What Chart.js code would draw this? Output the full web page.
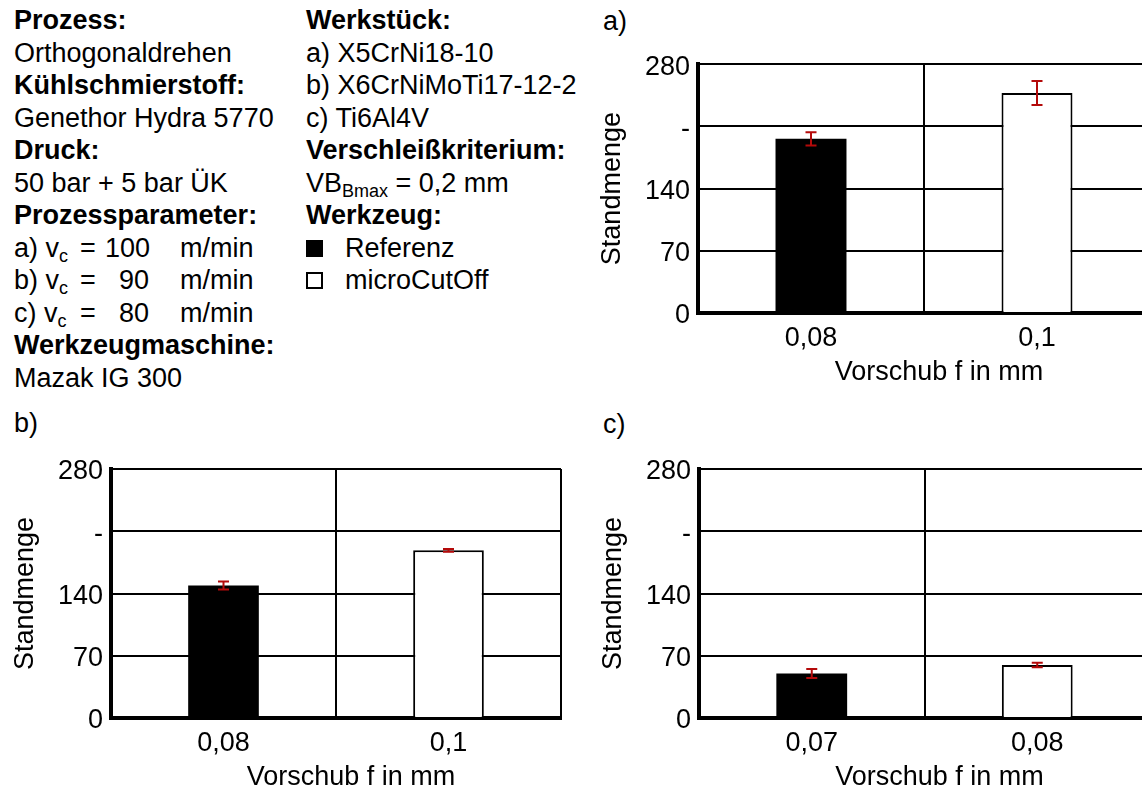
<!DOCTYPE html>
<html lang="de">
<head>
<meta charset="utf-8">
<title>Standmenge</title>
<script src="https://cdn.jsdelivr.net/npm/chart.js@4.4.0/dist/chart.umd.min.js"></script>
<style>
    html, body {
        margin: 0;
        padding: 0;
        background: #fff;
        overflow: hidden;
    }

    body {
        position: relative;
        width: 1142px;
        height: 790px;
        font-family: 'Liberation Sans', Arial, sans-serif;
        font-size: 27px;
        color: #000;
    }

    canvas {
        position: absolute;
    }

    .info {
        position: absolute;
        top: 4px;
        line-height: 32.5px;
        white-space: nowrap;
    }

    .info div {
        height: 32.5px;
    }

    .b {
        font-weight: bold;
    }

    sub {
        font-size: 18px;
        line-height: 0;
        vertical-align: -5px;
    }

    .row {
        position: relative;
    }

    .row span {
        position: absolute;
        top: 0;
    }

    .num {
        width: 44px;
        text-align: right;
    }

    .box {
        width: 17px;
        height: 17px;
        box-sizing: border-box;
        border: 2px solid #000;
    }

    .panel-label {
        position: absolute;
        line-height: 30px;
    }
</style>
</head>
<body>

<div class="info" style="left:14px">
    <div class="b">Prozess:</div>
    <div>Orthogonaldrehen</div>
    <div class="b">Kühlschmierstoff:</div>
    <div>Genethor Hydra 5770</div>
    <div class="b">Druck:</div>
    <div>50 bar + 5 bar ÜK</div>
    <div class="b">Prozessparameter:</div>
    <div class="row"><span>a) v<sub>c</sub></span><span style="left:66px">=</span><span class="num" style="left:91px">100</span><span style="left:166px">m/min</span></div>
    <div class="row"><span>b) v<sub>c</sub></span><span style="left:66px">=</span><span class="num" style="left:91px">90</span><span style="left:166px">m/min</span></div>
    <div class="row"><span>c) v<sub>c</sub></span><span style="left:66px">=</span><span class="num" style="left:91px">80</span><span style="left:166px">m/min</span></div>
    <div class="b">Werkzeugmaschine:</div>
    <div>Mazak IG 300</div>
</div>

<div class="info" style="left:306px">
    <div class="b">Werkstück:</div>
    <div>a) X5CrNi18-10</div>
    <div>b) X6CrNiMoTi17-12-2</div>
    <div>c) Ti6Al4V</div>
    <div class="b">Verschleißkriterium:</div>
    <div>VB<sub>Bmax</sub> = 0,2 mm</div>
    <div class="b">Werkzeug:</div>
    <div class="row"><span class="box" style="top:8px;background:#000"></span><span style="left:39px">Referenz</span></div>
    <div class="row"><span class="box" style="top:8px;background:#fff"></span><span style="left:39px">microCutOff</span></div>
</div>

<div class="panel-label" style="left:603px;top:6px">a)</div>
<div class="panel-label" style="left:14px;top:408px">b)</div>
<div class="panel-label" style="left:603px;top:409px">c)</div>

<canvas id="chart-a" width="580" height="360" style="left:587px;top:40px"></canvas>
<canvas id="chart-b" width="575" height="360" style="left:0px;top:440px"></canvas>
<canvas id="chart-c" width="580" height="360" style="left:588px;top:440px"></canvas>

<script>
//axis ticks, shared by all three charts
var yTicks = [0, 70, 140, 210, 280];
var yTickLabels = ['0', '70', '140', '-', '280'];

//a) X5CrNi18-10
var categoriesA = ['0,08', '0,1'];
var referenzA = [196, null];
var referenzErrA = [7.5, null];
var microCutOffA = [null, 247.5];
var microCutOffErrA = [null, 13.5];

//b) X6CrNiMoTi17-12-2
var categoriesB = ['0,08', '0,1'];
var referenzB = [149, null];
var referenzErrB = [4.5, null];
var microCutOffB = [null, 188.5];
var microCutOffErrB = [null, 1.5];

//c) Ti6Al4V
var categoriesC = ['0,07', '0,08'];
var referenzC = [50, null];
var referenzErrC = [5, null];
var microCutOffC = [null, 59.5];
var microCutOffErrC = [null, 2.5];

var errorColor = '#b40a0a';
var lineColor = '#000';

Chart.defaults.font.family = "'Liberation Sans', Arial, sans-serif";
Chart.defaults.font.size = 27;
Chart.defaults.color = '#000';

// red error bars, placed with the chart's own scales
var errorBarPlugin = {
    id: 'errorBars',
    afterDatasetsDraw: function (chart) {
        var ctx = chart.ctx;
        var yScale = chart.scales.y;
        ctx.save();
        ctx.strokeStyle = errorColor;
        ctx.lineWidth = 2;
        chart.data.datasets.forEach(function (dataset, i) {
            var meta = chart.getDatasetMeta(i);
            meta.data.forEach(function (bar, j) {
                var value = dataset.data[j];
                var err = dataset.errors[j];
                if (value === null || err === null) {
                    return;
                }
                var x = bar.x;
                var top = yScale.getPixelForValue(value + err);
                var bottom = yScale.getPixelForValue(value - err);
                ctx.beginPath();
                ctx.moveTo(x, top);
                ctx.lineTo(x, bottom);
                ctx.moveTo(x - 5.5, top);
                ctx.lineTo(x + 5.5, top);
                ctx.moveTo(x - 5.5, bottom);
                ctx.lineTo(x + 5.5, bottom);
                ctx.stroke();
            });
        });
        ctx.restore();
    }
};

function buildChart(canvasId, labels, referenz, referenzErr, microCutOff, microCutOffErr, padding) {
    return new Chart(document.getElementById(canvasId).getContext('2d'), {
        type: 'bar',
        data: {
            labels: labels,
            datasets: [{
                label: 'Referenz',
                data: referenz,
                errors: referenzErr,
                backgroundColor: '#000',
                borderWidth: 0,
                grouped: false,
                categoryPercentage: 1,
                barPercentage: 0.314
            }, {
                label: 'microCutOff',
                data: microCutOff,
                errors: microCutOffErr,
                backgroundColor: '#fff',
                borderColor: '#000',
                borderWidth: 2,
                grouped: false,
                categoryPercentage: 1,
                barPercentage: 0.314
            }]
        },
        options: {
            responsive: false,
            animation: false,
            devicePixelRatio: 1,
            layout: {padding: padding},
            plugins: {
                legend: {display: false},
                tooltip: {enabled: false}
            },
            scales: {
                x: {
                    grid: {color: lineColor, lineWidth: 2, drawTicks: false, offset: true},
                    border: {color: lineColor, width: 4},
                    ticks: {padding: 9},
                    title: {display: true, text: '    Vorschub f in mm', padding: {top: 0, bottom: 4}},
                    afterFit: function (scale) {
                        scale.height = 80;
                    }
                },
                y: {
                    min: 0,
                    max: 280,
                    grid: {color: lineColor, lineWidth: 2, drawTicks: false},
                    border: {color: lineColor, width: 4},
                    ticks: {
                        stepSize: 70,
                        padding: 8,
                        labelOffset: 3,
                        callback: function (value) {
                            return yTickLabels[yTicks.indexOf(value)];
                        }
                    },
                    title: {display: true, text: 'Standmenge', padding: {top: 9, bottom: 0}},
                    afterFit: function (scale) {
                        scale.width = 111;
                    }
                }
            }
        },
        plugins: [errorBarPlugin]
    });
}

// creating the three panels
buildChart('chart-a', categoriesA, referenzA, referenzErrA, microCutOffA, microCutOffErrA,
    {top: 23, right: 17, bottom: 7, left: 0});
buildChart('chart-b', categoriesB, referenzB, referenzErrB, microCutOffB, microCutOffErrB,
    {top: 29, right: 14, bottom: 2, left: 0});
buildChart('chart-c', categoriesC, referenzC, referenzErrC, microCutOffC, microCutOffErrC,
    {top: 29, right: 18, bottom: 2, left: 0});
</script>
</body>
</html>
